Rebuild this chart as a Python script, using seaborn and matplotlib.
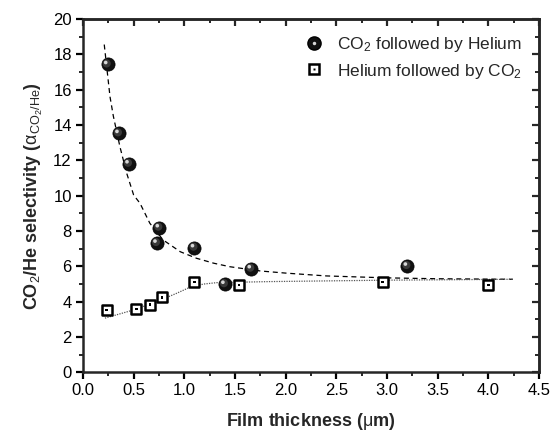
import numpy as np
import pandas as pd
import matplotlib
matplotlib.use("Agg")
import matplotlib.pyplot as plt
import matplotlib.transforms as mtransforms
from matplotlib.lines import Line2D
from matplotlib.legend_handler import HandlerTuple
import seaborn as sns

# ---- data ----
co2_he_x = [0.244, 0.355, 0.454, 0.730, 0.753, 1.10, 1.40, 1.66, 3.20]
co2_he_y = [17.43, 13.53, 11.81, 7.32, 8.19, 7.06, 4.99, 5.87, 6.02]

he_co2_x = [0.234, 0.526, 0.661, 0.78, 1.10, 1.54, 2.955, 4.00]
he_co2_y = [3.53, 3.59, 3.84, 4.25, 5.12, 4.95, 5.12, 4.95]

fit1_x = [0.21, 0.267, 0.30, 0.365, 0.43, 0.50, 0.563, 0.66, 0.79, 0.96, 1.12, 1.29,
          1.45, 1.75, 2.0, 2.4, 3.0, 3.5, 4.24]
fit1_y = [18.56, 15.6, 14.5, 12.77, 11.3, 10.04, 9.57, 8.44, 7.5, 6.83, 6.46, 6.18,
          5.98, 5.74, 5.62, 5.46, 5.35, 5.30, 5.27]

fit2_x = [0.217, 0.497, 0.727, 0.925, 1.056, 1.19, 1.32, 1.85, 3.0, 4.24]
fit2_y = [3.07, 3.53, 4.0, 4.48, 4.82, 5.0, 5.08, 5.14, 5.22, 5.27]

legend_labels = ["CO$_2$ followed by Helium", "Helium followed by CO$_2$"]
x_ticks = [0.0, 0.5, 1.0, 1.5, 2.0, 2.5, 3.0, 3.5, 4.0, 4.5]
y_ticks = [0, 2, 4, 6, 8, 10, 12, 14, 16, 18, 20]

sns.set_style("ticks")
plt.rcParams["font.family"] = ["Liberation Sans", "DejaVu Sans"]
plt.rcParams["mathtext.fontset"] = "custom"
plt.rcParams["mathtext.rm"] = "Liberation Sans"
plt.rcParams["mathtext.it"] = "Liberation Sans:italic"
plt.rcParams["mathtext.bf"] = "Liberation Sans:bold"
plt.rcParams["mathtext.default"] = "rm"

fig = plt.figure(figsize=(5.53, 4.34), dpi=100)
ax = fig.add_axes([0.150, 0.142, 0.825, 0.814])

df1 = pd.DataFrame({"x": co2_he_x, "y": co2_he_y})
df2 = pd.DataFrame({"x": he_co2_x, "y": he_co2_y})
f1 = pd.DataFrame({"x": fit1_x, "y": fit1_y})
f2 = pd.DataFrame({"x": fit2_x, "y": fit2_y})

sns.lineplot(data=f1, x="x", y="y", ax=ax, color="black", lw=0.9,
             linestyle=(0, (4, 3)), sort=False, zorder=2)
sns.lineplot(data=f2, x="x", y="y", ax=ax, color="#555555", lw=0.9,
             linestyle=(0, (1, 1)), sort=False, zorder=2)

# spheres: black ball with a grey highlight
sns.scatterplot(data=df1, x="x", y="y", ax=ax, marker="o", s=90,
                color="#111111", edgecolor="black", linewidth=0.5, zorder=4)
sns.scatterplot(data=df1, x="x", y="y", ax=ax, marker="o", s=34,
                color="#3a3a3a", edgecolor="none", linewidth=0, zorder=5)
sns.scatterplot(data=df1, x="x", y="y", ax=ax, marker="o", s=7,
                color="#d8d8d8", edgecolor="none", linewidth=0, zorder=6)
ax.collections[-1].set_offset_transform(ax.transData +
    mtransforms.ScaledTranslation(-2.0 / 100, 2.0 / 100, fig.dpi_scale_trans))
ax.collections[-2].set_offset_transform(ax.transData +
    mtransforms.ScaledTranslation(-1.0 / 100, 1.0 / 100, fig.dpi_scale_trans))

# open squares with centre dot
sns.scatterplot(data=df2, x="x", y="y", ax=ax, marker="s", s=44,
                color="white", edgecolor="black", linewidth=1.8, zorder=4)
sns.scatterplot(data=df2, x="x", y="y", ax=ax, marker="s", s=4,
                color="black", edgecolor="none", linewidth=0, zorder=5)

ax.set_xlim(0, 4.5)
ax.set_ylim(0, 20)
ax.set_xticks(x_ticks)
ax.set_xticklabels([f"{v:.1f}" for v in x_ticks])
ax.set_yticks(y_ticks)
ax.set_yticklabels([str(v) for v in y_ticks])
ax.set_xticks(np.arange(0.25, 4.5, 0.5), minor=True)
ax.set_yticks(np.arange(1, 20, 2), minor=True)

for s in ax.spines.values():
    s.set_visible(True)
    s.set_linewidth(1.8)
ax.tick_params(which="major", direction="out", length=5, width=1.6,
               labelsize=12, pad=3, colors="black")
ax.tick_params(which="minor", direction="out", length=3, width=1.4)
ax.tick_params(which="both", top=False, right=False)

# mirrored inward ticks on top and right
axt = ax.secondary_xaxis("top")
axt.set_xticks(x_ticks)
axt.set_xticks(np.arange(0.25, 4.5, 0.5), minor=True)
axt.tick_params(which="major", direction="in", length=5, width=1.6, labeltop=False)
axt.tick_params(which="minor", direction="in", length=3, width=1.4)
axt.spines["top"].set_linewidth(1.8)
axr = ax.secondary_yaxis("right")
axr.set_yticks(y_ticks)
axr.set_yticks(np.arange(1, 20, 2), minor=True)
axr.tick_params(which="major", direction="in", length=5, width=1.6, labelright=False)
axr.tick_params(which="minor", direction="in", length=3, width=1.4)
axr.spines["right"].set_linewidth(1.8)

ax.set_xlabel("Film thickness ($\\mu$m)", fontsize=13, fontweight="bold", labelpad=9)
ax.set_ylabel("CO$_2$/He selectivity ($\\alpha_{CO_2/He}$)", fontsize=13,
              fontweight="bold", labelpad=6)

h1 = (Line2D([], [], marker="o", ls="none", ms=9.5, mfc="#111111", mec="black"),
      Line2D([], [], marker="o", ls="none", ms=2.5, mfc="#d8d8d8", mec="none"))
h2 = (Line2D([], [], marker="s", ls="none", ms=6.5, mfc="white", mec="black", mew=1.8),
      Line2D([], [], marker="s", ls="none", ms=1.8, mfc="black", mec="none"))
ax.legend([h1, h2], legend_labels, handler_map={tuple: HandlerTuple(ndivide=1)},
          loc="upper right", bbox_to_anchor=(1.0, 1.005), frameon=False,
          fontsize=12.5, handletextpad=0.5, labelspacing=0.45, borderpad=0.5,
          handlelength=1.6)

fig.savefig("out.png", dpi=100)
